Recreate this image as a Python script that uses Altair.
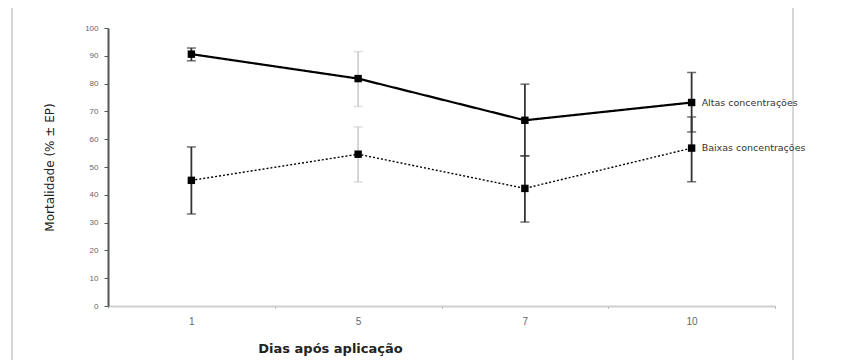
import altair as alt
import pandas as pd

dias = ["1", "5", "7", "10"]
series = ["Altas concentrações", "Baixas concentrações"]
altas = [90.6, 81.8, 66.8, 73.2]
altas_lo = [88.2, 71.8, 54.0, 62.6]
altas_hi = [92.8, 91.5, 79.8, 84.0]
baixas = [45.2, 54.6, 42.3, 56.8]
baixas_lo = [33.1, 44.6, 30.2, 44.7]
baixas_hi = [57.2, 64.4, 54.0, 68.0]

rows = []
for s, v, lo, hi in [(series[0], altas, altas_lo, altas_hi), (series[1], baixas, baixas_lo, baixas_hi)]:
    for i, d in enumerate(dias):
        rows.append({"dia": d, "serie": s, "valor": v[i], "lo": lo[i], "hi": hi[i]})
df = pd.DataFrame(rows)

W, H = 667, 278
FONT = "Liberation Sans"
WIDE = "DejaVu Sans"

xenc = alt.X("dia:O", sort=dias,
             scale=alt.Scale(type="band", paddingInner=0, paddingOuter=0),
             axis=alt.Axis(title="Dias após aplicação", labelAngle=0, labelFontSize=10,
                           labelColor="#666666", labelPadding=8, tickBand="extent",
                           tickColor="#999", tickSize=2, domainColor="#cfcfcf",
                           domainWidth=2, titleFontSize=13, titleFontWeight="bold",
                           titleColor="#222", titleX=222, titleY=36, titleFont=WIDE,
                           labelFont=FONT))

yscale = alt.Scale(domain=[0, 100], nice=False)
yaxis = alt.Axis(title="Mortalidade (% ± EP)", tickCount=11,
                 labelOverlap=False,
                 grid=False, labelFontSize=8, labelColor="#666",
                 labelFont=FONT, domainColor="#555", domainWidth=2,
                 tickColor="#555", tickSize=4, labelPadding=6,
                 titleFontSize=12, titleFontWeight="normal", titleColor="#222",
                 titleFont=WIDE, titleX=-52, titleY=H / 2)


def Y(field):
    return alt.Y(field, scale=yscale, axis=yaxis)


errcolor = alt.condition(alt.datum.dia == "5", alt.value("#d0d0d0"), alt.value("#333"))

err = alt.Chart(df).mark_rule(strokeWidth=1.8).encode(
    x=xenc, y=Y("lo:Q"), y2="hi:Q", color=errcolor)
cap_lo = alt.Chart(df).mark_tick(size=9, thickness=1.5).encode(
    x=xenc, y=Y("lo:Q"), color=errcolor)
cap_hi = alt.Chart(df).mark_tick(size=9, thickness=1.5).encode(
    x=xenc, y=Y("hi:Q"), color=errcolor)

line = alt.Chart(df).mark_line(color="black").encode(
    x=xenc,
    y=Y("valor:Q"),
    detail="serie:N",
    strokeDash=alt.StrokeDash("serie:N", scale=alt.Scale(domain=series, range=[[1, 0], [2, 2]]),
                              legend=None),
    strokeWidth=alt.StrokeWidth("serie:N", scale=alt.Scale(domain=series, range=[2.2, 1.4]),
                                legend=None),
)

pts = alt.Chart(df).mark_point(shape="square", filled=True, color="black", size=55, opacity=1).encode(
    x=xenc, y=Y("valor:Q"))

labels = alt.Chart(df).transform_filter(alt.datum.dia == "10").mark_text(
    align="left", dx=10, fontSize=9.5, color="#333", font=WIDE).encode(
    x=xenc, y=Y("valor:Q"), text="serie:N")

frame = alt.Chart(pd.DataFrame({"x": [-96, 685]})).mark_rule(color="#c8c8c8", strokeWidth=1.5).encode(
    x=alt.X("x:Q", scale=None), y=alt.value(-20), y2=alt.value(H + 54))

chart = alt.layer(frame, err, cap_lo, cap_hi, line, pts, labels).properties(
    width=W, height=H,
    padding={"left": 100, "top": 20, "right": 77, "bottom": 54},
    autosize=alt.AutoSizeParams(type="none"),
    background="white",
).configure_view(stroke=None)

chart.save("out.html", embed_options={"renderer": "svg", "actions": False})
